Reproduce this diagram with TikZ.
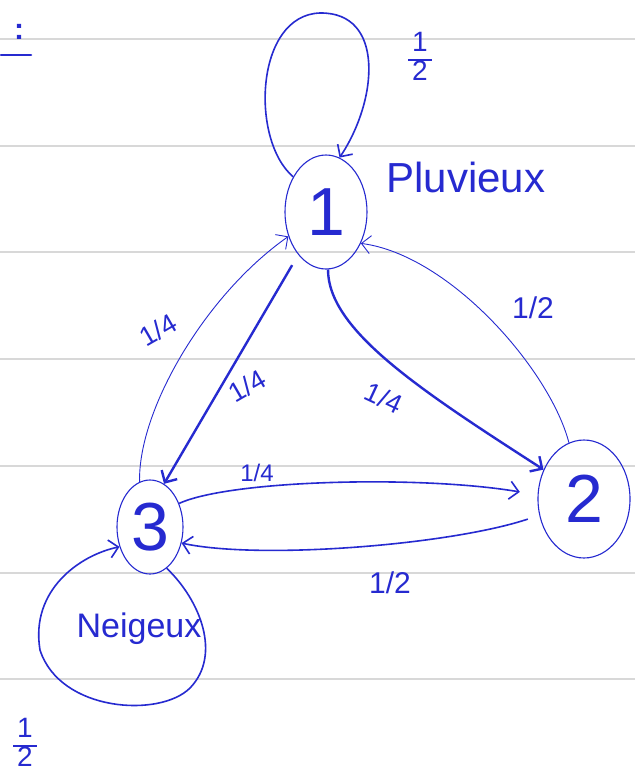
\documentclass[tikz,border=0pt]{standalone}
\usepackage{fontspec}
\setmainfont{Liberation Sans}
\usetikzlibrary{shapes.geometric,arrows.meta}
\definecolor{ink}{RGB}{38,42,208}
\definecolor{paperrule}{RGB}{216,216,216}
\setlength{\arrayrulewidth}{2pt}
\newcommand{\handhalf}{{\renewcommand{\arraystretch}{0.8}\begin{tabular}{@{\hspace{4pt}}c@{\hspace{4pt}}}1\\\hline 2\end{tabular}}}
\begin{document}
\begin{tikzpicture}[x=1pt,y=-1pt,
  state/.style={ellipse, draw=ink, line width=1.1pt, inner sep=0pt, text=ink, font=\fontsize{68}{72}\selectfont},
  lbl/.style={text=ink, inner sep=1pt, font=\fontsize{26}{28}\selectfont},
  arr/.style={-{Straight Barb[length=9pt,width=18pt]}},
  thinedge/.style={draw=ink, line width=0.9pt, arr},
  medEdge/.style={draw=ink, line width=1.6pt, arr},
  thickedge/.style={draw=ink, line width=2.4pt, arr},
  ruling/.style={draw=paperrule, line width=2.6pt}]
\useasboundingbox[fill=white] (0,0) rectangle (635,780);
% paper rulings
\foreach \yy in {39,146,252,359,466,573,679} \draw[ruling] (0,\yy) -- (635,\yy);
% top-left remains
\node[text=ink, font=\bfseries\fontsize{30}{32}\selectfont, anchor=base, inner sep=0pt] (colon) at (19,39) {:};
\draw[ink, line width=2.6pt, line cap=round] (1,55) -- (31,55);
% states
\node[state, minimum width=82pt, minimum height=114pt] (n1) at (326,212) {1};
\node[state, minimum width=92pt, minimum height=118pt] (n2) at (584,499) {2};
\node[state, minimum width=66pt, minimum height=94pt] (n3) at (150,527) {3};
% names
\node[lbl, font=\fontsize{42}{44}\selectfont, anchor=base] (pluv) at (466,192) {Pluvieux};
\node[lbl, font=\fontsize{34}{36}\selectfont, anchor=base] (neig) at (139,637) {Neigeux};
% self loops
\draw[medEdge] (n1.133) .. controls (250,140) and (255,15) .. (320,13)
  .. controls (385,12) and (378,100) .. (n1.76);
\node[lbl, font=\fontsize{28}{30}\selectfont] (p11) at (420,60) {\handhalf};
\draw[medEdge] (n3.292) .. controls (200,600) and (222,655) .. (190,688)
  .. controls (160,718) and (60,712) .. (40,650)
  .. controls (30,590) and (80,555) .. (n3.213);
\node[lbl, font=\fontsize{28}{30}\selectfont] (p33) at (25,746) {\handhalf};
% edges
\draw[thickedge, shorten <=12pt] (n1.237) -- (n3.72);
\node[lbl, font=\fontsize{27}{29}\selectfont, rotate=30] (p13) at (247,386) {1/4};
\draw[thinedge] (n3.103) .. controls (138,410) and (205,295) .. (n1.213);
\node[lbl, font=\fontsize{27}{29}\selectfont, rotate=30] (p31) at (158,330) {1/4};
\draw[thickedge] (n1.272) .. controls (328,330) and (420,390) .. (n2.144);
\node[lbl, font=\fontsize{27}{29}\selectfont, rotate=-25] (p12) at (384,398) {1/4};
\draw[thinedge] (n2.105) .. controls (550,370) and (450,255) .. (n1.318);
\node[lbl, font=\fontsize{30}{32}\selectfont] (p21) at (533,308) {1/2};
\draw[medEdge, shorten >=18pt] (n3.39) .. controls (230,480) and (420,475) .. (n2.175);
\node[lbl, font=\fontsize{24}{26}\selectfont] (p32) at (257,473) {1/4};
\draw[medEdge, shorten <=12pt] (n2.200) .. controls (450,545) and (260,560) .. (n3.333);
\node[lbl, font=\fontsize{30}{32}\selectfont] (p23) at (390,583) {1/2};
\end{tikzpicture}
\end{document}
